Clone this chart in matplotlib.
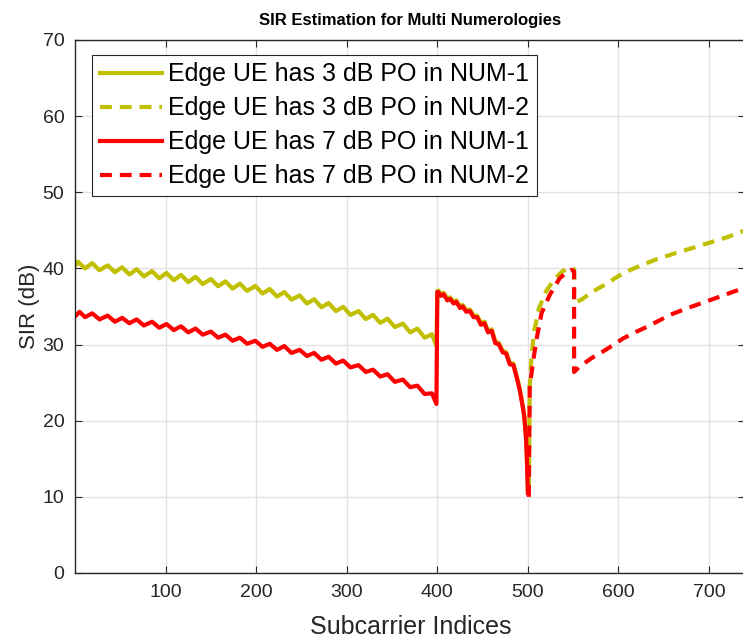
import matplotlib
matplotlib.use("Agg")
import matplotlib.pyplot as plt

plt.rcParams['font.family'] = ['Liberation Sans', 'DejaVu Sans']

# NUM-1, 3 dB power offset (solid yellow)
x_n1_3 = [1, 3, 11, 19, 27, 36, 44, 52, 60, 68, 76, 85, 93, 101, 109, 117, 125, 133, 141,
          150, 158, 166, 174, 182, 190, 199, 207, 215, 223, 231, 239, 248, 256, 264, 272,
          280, 288, 296, 304, 313, 321, 329, 337, 345, 353, 362, 370, 378, 386, 394, 399,
          400, 401, 404, 407, 411, 414, 418, 421, 425, 428, 432, 436, 440, 444, 448, 452,
          456, 460, 464, 468, 472, 476, 480, 484, 488, 491, 494, 496, 498, 499, 500]
y_n1_3 = [40.5, 40.9, 40.0, 40.7, 39.75, 40.4, 39.5, 40.15, 39.2, 39.9, 38.95, 39.65, 38.7,
          39.4, 38.45, 39.15, 38.2, 38.9, 37.95, 38.6, 37.65, 38.3, 37.35, 38.0, 37.05, 37.7,
          36.7, 37.3, 36.3, 36.9, 35.9, 36.45, 35.4, 35.95, 34.9, 35.45, 34.4, 34.95, 33.9,
          34.4, 33.35, 33.9, 32.85, 33.4, 32.3, 32.75, 31.6, 32.1, 30.9, 31.35, 29.8,
          37.0, 37.1, 36.6, 36.8, 36.0, 36.2, 35.6, 35.8, 35.0, 35.2, 34.5, 34.6, 33.8, 33.8,
          32.8, 33.0, 31.8, 32.0, 30.4, 30.2, 29.2, 29.0, 27.6, 27.5, 25.7, 24.2, 22.2, 20.7,
          17.7, 14.7, 10.7]

# NUM-2, 3 dB power offset (dashed yellow)
x_n2_3 = [501, 502, 504, 507, 512, 520, 530, 538, 545, 551, 551, 559, 572, 587, 600, 613,
          627, 642, 655, 668, 685, 701, 720, 740]
y_n2_3 = [11.0, 24.5, 28.5, 31.8, 34.7, 37.0, 38.7, 39.6, 40.1, 39.9, 35.4, 35.9, 37.0,
          38.0, 39.0, 39.8, 40.5, 41.2, 41.7, 42.2, 42.8, 43.4, 44.1, 45.0]

# NUM-1, 7 dB power offset (solid red)
x_n1_7 = [1, 5, 11, 19, 27, 36, 44, 52, 60, 68, 76, 85, 93, 101, 109, 117, 125, 133, 141,
          150, 158, 166, 174, 182, 190, 199, 207, 215, 223, 231, 239, 248, 256, 264, 272,
          280, 288, 296, 304, 313, 321, 329, 337, 345, 353, 362, 370, 378, 386, 394, 399,
          400, 401, 404, 407, 411, 414, 418, 421, 425, 428, 432, 436, 440, 444, 448, 452,
          456, 460, 464, 468, 472, 476, 480, 484, 488, 491, 494, 496, 498, 499, 500]
y_n1_7 = [33.8, 34.3, 33.6, 34.1, 33.3, 33.8, 33.0, 33.5, 32.8, 33.3, 32.5, 33.0, 32.2,
          32.7, 31.9, 32.4, 31.6, 32.1, 31.3, 31.7, 30.9, 31.3, 30.5, 30.9, 30.1, 30.5, 29.7,
          30.1, 29.3, 29.8, 28.9, 29.3, 28.5, 28.9, 28.0, 28.4, 27.5, 27.9, 27.0, 27.3, 26.4,
          26.7, 25.8, 26.1, 25.1, 25.4, 24.4, 24.6, 23.5, 23.6, 22.2,
          36.9, 36.9, 36.4, 36.6, 35.8, 36.0, 35.4, 35.6, 34.8, 35.0, 34.3, 34.4, 33.6, 33.6,
          32.6, 32.8, 31.6, 31.8, 30.2, 30.0, 29.0, 28.8, 27.4, 27.3, 25.5, 24.0, 22.0, 20.5,
          17.5, 14.5, 10.5]

# NUM-2, 7 dB power offset (dashed red)
x_n2_7 = [501, 502, 506, 510, 515, 524, 535, 542, 548, 551, 551, 557, 570, 583, 595, 605,
          618, 631, 644, 657, 672, 686, 712, 740]
y_n2_7 = [10.0, 24.5, 28.0, 31.0, 34.1, 36.5, 38.7, 39.4, 39.8, 39.6, 26.4, 27.1, 28.2,
          29.1, 30.0, 30.8, 31.6, 32.3, 33.1, 33.9, 34.6, 35.2, 36.3, 37.5]

labels = ['Edge UE has 3 dB PO in NUM-1', 'Edge UE has 3 dB PO in NUM-2',
          'Edge UE has 7 dB PO in NUM-1', 'Edge UE has 7 dB PO in NUM-2']

yellow = '#c0c000'
red = '#ff0000'
dash = (0, (2.85, 1.9))
ax_col = '#262626'

fig = plt.figure(figsize=(7.43, 6.43), dpi=100)
ax = fig.add_axes([0.1016, 0.1089, 0.9015, 0.8289])

ax.plot(x_n1_3, y_n1_3, color=yellow, lw=3, label=labels[0])
ax.plot(x_n2_3, y_n2_3, color=yellow, lw=3, ls=dash, label=labels[1])
ax.plot(x_n1_7, y_n1_7, color=red, lw=3, label=labels[2])
ax.plot(x_n2_7, y_n2_7, color=red, lw=3, ls=dash, label=labels[3])

ax.set_xlim(0.5, 740)
ax.set_ylim(0, 70)
ax.set_xticks([100, 200, 300, 400, 500, 600, 700])
ax.set_yticks(range(0, 71, 10))
ax.grid(True, color='#e3e3e3', lw=1)
ax.set_axisbelow(True)
ax.tick_params(direction='in', length=5, top=True, right=True, labelsize=14,
               colors=ax_col, pad=8)
for s in ax.spines.values():
    s.set_color(ax_col)
    s.set_linewidth(1.0)

ax.set_xlabel('Subcarrier Indices', fontsize=18, color=ax_col, labelpad=10)
ax.set_ylabel('SIR (dB)', fontsize=16, color=ax_col, labelpad=2)
ax.set_title('SIR Estimation for Multi Numerologies', fontsize=12, fontweight='bold', pad=11)

leg = ax.legend(loc='upper left', bbox_to_anchor=(0.025, 0.972), fontsize=18,
                handlelength=2.5, handletextpad=0.25, borderpad=0.3, labelspacing=0.4,
                fancybox=False, framealpha=1, edgecolor=ax_col, borderaxespad=0)
leg.get_frame().set_linewidth(0.8)

fig.savefig('out.png', dpi=100)
